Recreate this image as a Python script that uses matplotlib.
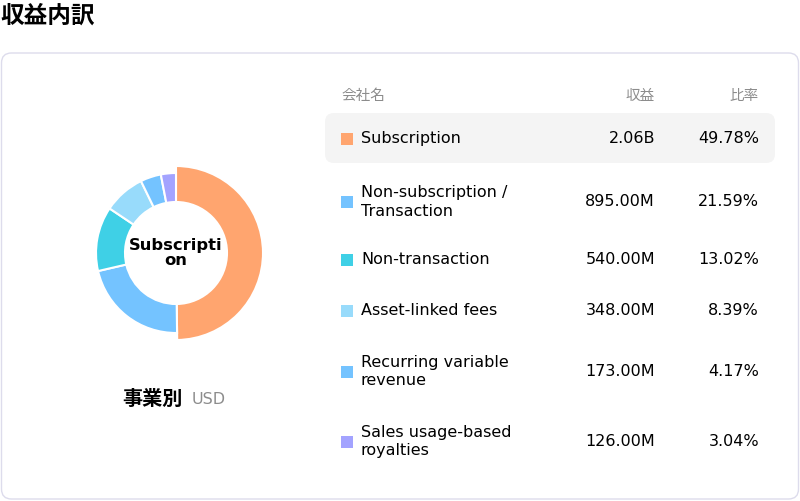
import matplotlib
matplotlib.use('Agg')
import matplotlib.pyplot as plt
from matplotlib.patches import FancyBboxPatch

plt.rcParams['font.family'] = ['DejaVu Sans', 'Noto Sans CJK JP']

# data
segments = ['Subscription', 'Non-subscription /\nTransaction', 'Non-transaction',
            'Asset-linked fees', 'Recurring variable\nrevenue', 'Sales usage-based\nroyalties']
revenue_labels = ['2.06B', '895.00M', '540.00M', '348.00M', '173.00M', '126.00M']
shares = [49.78, 21.59, 13.02, 8.39, 4.17, 3.04]
colors = ['#FFA56F', '#74C3FF', '#3FD0E6', '#98DBFB', '#74C3FF', '#A3A3FF']

W, H = 800, 501
fig = plt.figure(figsize=(W / 100, H / 100), dpi=100)
ax = fig.add_axes([0, 0, 1, 1])
ax.set_xlim(0, W)
ax.set_ylim(H, 0)
ax.axis('off')

# title
ax.text(0, 16, '収益内訳', fontsize=17, fontweight='bold', ha='left', va='center')

# card
card = FancyBboxPatch((1.5, 53), 797, 446, boxstyle='round,pad=0,rounding_size=10',
                      facecolor='white', edgecolor='#dddcec', linewidth=1)
ax.add_patch(card)

# donut (first slice is the highlighted one, drawn bigger)
cx, cy, r = 176, 253, 87
r_out, r_in = 80 / r, 51 / r
dax = fig.add_axes([(cx - r) / W, (H - cy - r) / H, 2 * r / W, 2 * r / H])
wedges, _ = dax.pie(shares, colors=colors, startangle=90, counterclock=False,
                    radius=r_out,
                    wedgeprops=dict(width=r_out - r_in, edgecolor='white', linewidth=1.5))
wedges[0].set_radius(1.0)
wedges[0].set_width(1.0 - r_in)
dax.set_xlim(-1, 1)
dax.set_ylim(-1, 1)
dax.set_aspect('equal')
dax.axis('off')
dax.text(0, 0, 'Subscripti\non', ha='center', va='center', fontsize=11.8,
         fontweight='bold', linespacing=0.95)

ax.text(183, 399, '事業別', fontsize=14.5, fontweight='bold', ha='right', va='center')
ax.text(192, 399, 'USD', fontsize=11.5, color='#8c8c8c', ha='left', va='center')

# table header
ax.text(341, 95, '会社名', fontsize=10.5, color='#8c8c8c', ha='left', va='center')
ax.text(655, 95, '収益', fontsize=10.5, color='#8c8c8c', ha='right', va='center')
ax.text(759, 95, '比率', fontsize=10.5, color='#8c8c8c', ha='right', va='center')

row_y = [138.5, 202, 259.5, 310.5, 371.5, 441.5]

hl = FancyBboxPatch((325, 113), 450, 50, boxstyle='round,pad=0,rounding_size=9',
                    facecolor='#f4f4f4', edgecolor='none')
ax.add_patch(hl)

for name, rev, pct, col, y in zip(segments, revenue_labels, shares, colors, row_y):
    ax.add_patch(plt.Rectangle((341, y - 6), 12, 12, facecolor=col, edgecolor='none'))
    ax.text(361, y, name, fontsize=11.5, ha='left', va='center', linespacing=1.3)
    ax.text(655, y, rev, fontsize=11.5, ha='right', va='center')
    ax.text(759, y, f'{pct:.2f}%', fontsize=11.5, ha='right', va='center')

fig.savefig('out.png', dpi=100)
